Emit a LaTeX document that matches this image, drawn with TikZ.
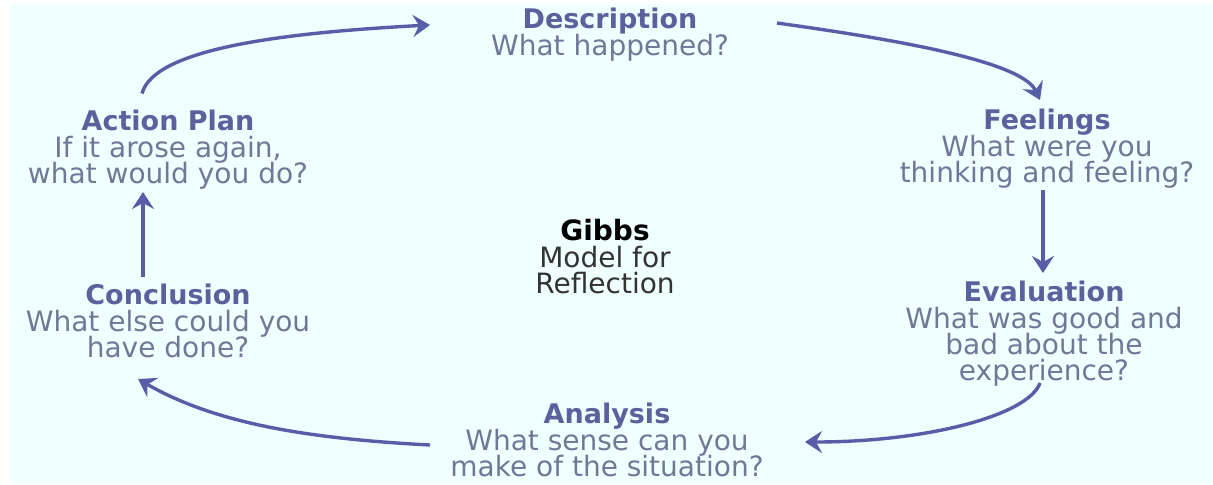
\documentclass[tikz,border=0pt]{standalone}
\usepackage{fontspec}
\setsansfont{DejaVu Sans}
\usetikzlibrary{arrows.meta}

\definecolor{paleaqua}{RGB}{240,255,255}
\definecolor{stagetitle}{RGB}{90,98,158}
\definecolor{stagetext}{RGB}{112,120,152}
\definecolor{flowblue}{RGB}{86,94,168}

% title line in bold, question underneath
\newcommand{\stagetxt}[2]{{\bfseries\fontsize{13.5}{13}\selectfont\color{stagetitle}#1}\\[0.5pt]#2}

\begin{document}
\begin{tikzpicture}[x=0.5pt,y=0.5pt,>={Stealth[length=8.5pt,width=11pt,inset=3pt]},
    stage/.style={anchor=north,align=center,inner sep=0pt,text=stagetext,
      font={\sffamily\fontsize{14}{13}\selectfont\lineskiplimit=-20pt}},
    flow/.style={->,draw=flowblue,line width=1.7pt}]
  \useasboundingbox (0,0) rectangle (1213,-484);
  \fill[paleaqua] (10,-4) rectangle (1213,-484);

  \node[stage] (desc) at (610,-7.5) {\stagetxt{Description}{What happened?}};
  \node[stage] (feel) at (1047,-108.5) {\stagetxt{Feelings}{What were you\\thinking and feeling?}};
  \node[stage] (eval) at (1044,-280.5) {\stagetxt{Evaluation}{What was good and\\bad about the\\experience?}};
  \node[stage] (anal) at (607,-402.5) {\stagetxt{Analysis}{What sense can you\\make of the situation?}};
  \node[stage] (concl) at (168,-283.5) {\stagetxt{Conclusion}{What else could you\\have done?}};
  \node[stage] (action) at (168,-109.5) {\stagetxt{Action Plan}{If it arose again,\\what would you do?}};
  \node[stage,text=black!80] (gibbs) at (605,-218.5)
    {{\bfseries\color{black}Gibbs}\\[0.5pt]Model for\\Reflection};

  % the cycle, clockwise from the top
  \path
    ([xshift=-13pt,yshift=8pt]action.north)
      edge[flow,out=75,in=183,out distance=23pt,in distance=75pt]
      ([xshift=-90pt,yshift=-8.75pt]desc.north)
    ([xshift=83.5pt,yshift=-7.75pt]desc.north)
      edge[flow,out=-8,in=115,out distance=50pt,in distance=22.5pt]
      ([xshift=-3.5pt,yshift=4.25pt]feel.north)
    ([xshift=-2pt,yshift=-40.75pt]feel.north)
      edge[flow] ([xshift=-0.5pt,yshift=3.75pt]eval.north)
    ([xshift=-2pt,yshift=-51.25pt]eval.north)
      edge[flow,out=250,in=0,out distance=17.5pt,in distance=60pt]
      ([xshift=99pt,yshift=-19.75pt]anal.north)
    ([xshift=-88.5pt,yshift=-21.25pt]anal.north)
      edge[flow,out=177,in=-30,out distance=60pt,in distance=45pt]
      ([xshift=-15pt,yshift=-47.75pt]concl.north)
    ([xshift=-12.5pt,yshift=3.25pt]concl.north)
      edge[flow] ([xshift=-12.5pt,yshift=-41.25pt]action.north)
  ;
\end{tikzpicture}
\end{document}
